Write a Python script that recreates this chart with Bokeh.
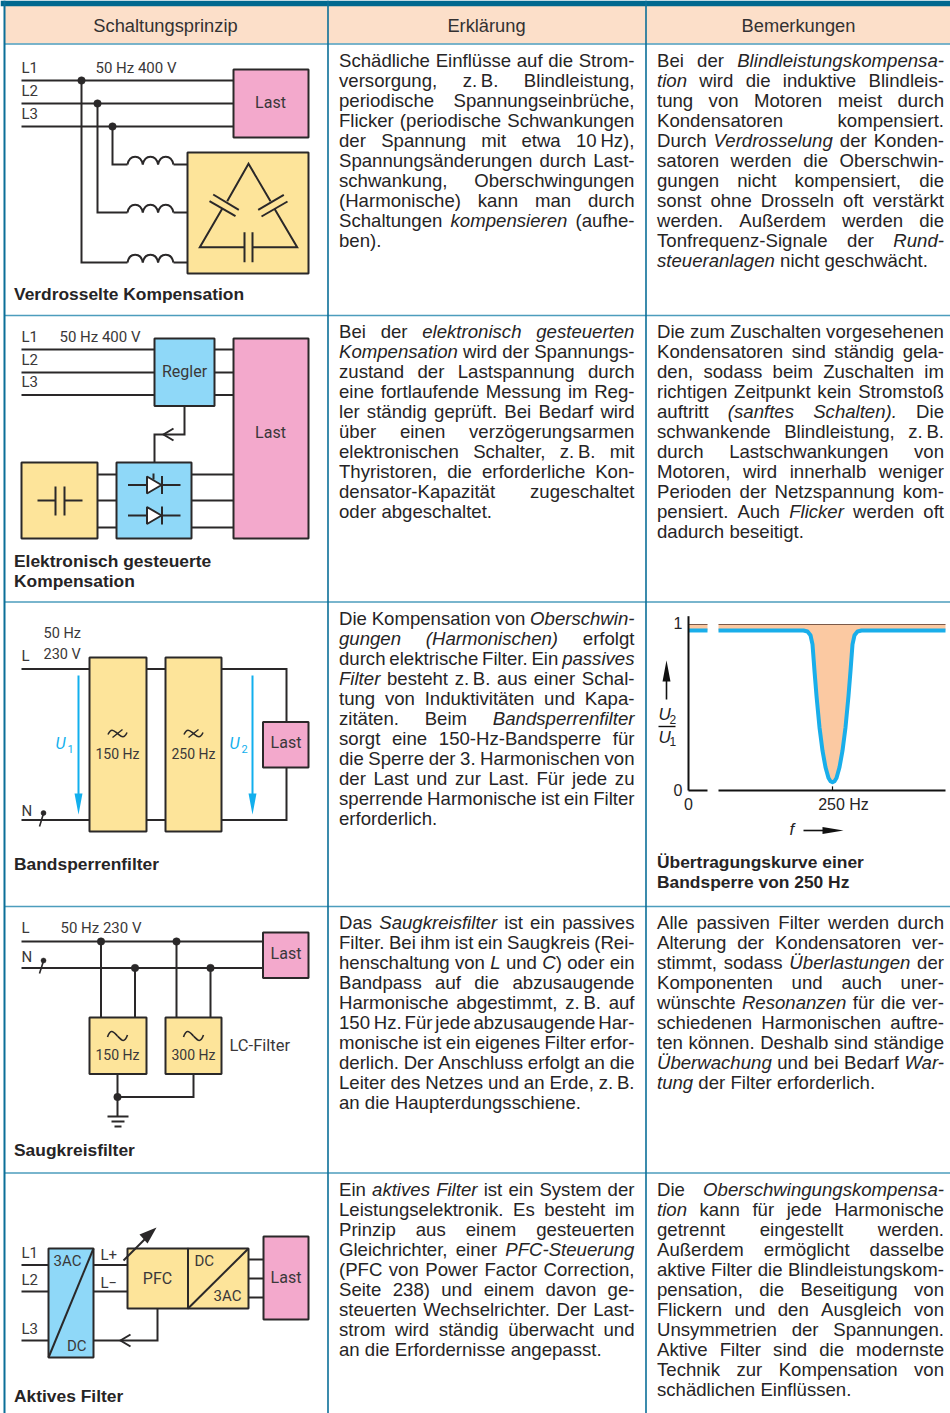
import glob
from bokeh.plotting import figure
from bokeh.models import Range1d
from bokeh.core.properties import value
from bokeh.embed import file_html
from bokeh.resources import INLINE

# ---------- data ----------
headers = ["Schaltungsprinzip", "Erklärung", "Bemerkungen"]
row_titles = [["Verdrosselte Kompensation"],
              ["Elektronisch gesteuerte", "Kompensation"],
              ["Bandsperrenfilter"],
              ["Saugkreisfilter"],
              ["Aktives Filter"]]
curve_title = ["Übertragungskurve einer", "Bandsperre von 250 Hz"]

# Body copy: "*" toggles italic, trailing "|" marks a line set without justification
col2_r1 = ["Schädliche Einflüsse auf die Strom-", "versorgung, z.\u2009B. Blindleistung,",
           "periodische Spannungseinbrüche,", "Flicker (periodische Schwankungen",
           "der Spannung mit etwa 10\u2009Hz),", "Spannungsänderungen durch Last-",
           "schwankung, Oberschwingungen", "(Harmonische) kann man durch",
           "Schaltungen *kompensieren* (aufhe-", "ben).|"]
col3_r1 = ["Bei der *Blindleistungskompensa-*", "*tion* wird die induktive Blindleis-",
           "tung von Motoren meist durch", "Kondensatoren kompensiert.",
           "Durch *Verdrosselung* der Konden-", "satoren werden die Oberschwin-",
           "gungen nicht kompensiert, die", "sonst ohne Drosseln oft verstärkt",
           "werden. Außerdem werden die", "Tonfrequenz-Signale der *Rund-*",
           "*steueranlagen* nicht geschwächt.|"]
col2_r2 = ["Bei der *elektronisch gesteuerten*", "*Kompensation* wird der Spannungs-",
           "zustand der Lastspannung durch", "eine fortlaufende Messung im Reg-",
           "ler ständig geprüft. Bei Bedarf wird", "über einen verzögerungsarmen",
           "elektronischen Schalter, z.\u2009B. mit", "Thyristoren, die erforderliche Kon-",
           "densator-Kapazität zugeschaltet", "oder abgeschaltet.|"]
col3_r2 = ["Die zum Zuschalten vorgesehenen", "Kondensatoren sind ständig gela-",
           "den, sodass beim Zuschalten im", "richtigen Zeitpunkt kein Stromstoß",
           "auftritt *(sanftes Schalten).* Die", "schwankende Blindleistung, z.\u2009B.",
           "durch Lastschwankungen von", "Motoren, wird innerhalb weniger",
           "Perioden der Netzspannung kom-", "pensiert. Auch *Flicker* werden oft",
           "dadurch beseitigt.|"]
col2_r3 = ["Die Kompensation von *Oberschwin-*", "*gungen (Harmonischen)* erfolgt",
           "durch elektrische Filter. Ein *passives*", "*Filter* besteht z.\u2009B. aus einer Schal-",
           "tung von Induktivitäten und Kapa-", "zitäten. Beim *Bandsperrenfilter*",
           "sorgt eine 150-Hz-Bandsperre für", "die Sperre der 3. Harmonischen von",
           "der Last und zur Last. Für jede zu", "sperrende Harmonische ist ein Filter",
           "erforderlich.|"]
col2_r4 = ["Das *Saugkreisfilter* ist ein passives", "Filter. Bei ihm ist ein Saugkreis (Rei-",
           "henschaltung von *L* und *C*) oder ein", "Bandpass auf die abzusaugende",
           "Harmonische abgestimmt, z.\u2009B. auf", "150\u2009Hz. Für jede abzusaugende Har-",
           "monische ist ein eigenes Filter erfor-", "derlich. Der Anschluss erfolgt an die",
           "Leiter des Netzes und an Erde, z.\u2009B.", "an die Haupterdungsschiene.|"]
col3_r4 = ["Alle passiven Filter werden durch", "Alterung der Kondensatoren ver-",
           "stimmt, sodass *Überlastungen* der", "Komponenten und auch uner-",
           "wünschte *Resonanzen* für die ver-", "schiedenen Harmonischen auftre-",
           "ten können. Deshalb sind ständige", "*Überwachung* und bei Bedarf *War-*",
           "*tung* der Filter erforderlich.|"]
col2_r5 = ["Ein *aktives Filter* ist ein System der", "Leistungselektronik. Es besteht im",
           "Prinzip aus einem gesteuerten", "Gleichrichter, einer *PFC-Steuerung*",
           "(PFC von Power Factor Correction,", "Seite 238) und einem davon ge-",
           "steuerten Wechselrichter. Der Last-", "strom wird ständig überwacht und",
           "an die Erfordernisse angepasst.|"]
col3_r5 = ["Die *Oberschwingungskompensa-*", "*tion* kann für jede Harmonische",
           "getrennt eingestellt werden.", "Außerdem ermöglicht dasselbe",
           "aktive Filter die Blindleistungskom-", "pensation, die Beseitigung von",
           "Flickern und den Ausgleich von", "Unsymmetrien der Spannungen.",
           "Aktive Filter sind die modernste", "Technik zur Kompensation von",
           "schädlichen Einflüssen.|"]

# Transfer curve of the 250 Hz band stop (frequency in Hz around the notch, U2/U1)
curve_f = [136, 221, 225, 228, 230, 231, 232, 234, 237, 240, 243, 246, 248, 250,
           252, 254, 257, 260, 263, 266, 268, 269, 270, 272, 275, 279, 363]
curve_u = [0.964, 0.964, 0.958, 0.935, 0.88, 0.80, 0.72, 0.57, 0.38, 0.24, 0.14, 0.075, 0.056, 0.05,
           0.056, 0.075, 0.14, 0.24, 0.38, 0.57, 0.72, 0.80, 0.88, 0.935, 0.958, 0.964, 0.964]
stub_f = [0, 19]
stub_u = [0.964, 0.964]
ratio_limit = 1.0
y_ticks = ["1", "0"]
x_ticks = ["0", "250 Hz"]

# ---------- styles ----------
INK = "#2a2829"
BODY = "#262425"
LABEL = "#3a3839"
RULE = "#0b6f98"
THIN = "#4d9dbd"
PINK = "#f3a9cc"
YEL = "#fde49a"
BLU = "#8fd8f8"
CYAN = "#12afed"
PEACH = "#fbc9a2"
HEAD = "#fcdfc9"
BODY_FONT = "Liberation Sans"
DIA_FONT = "Roboto"
BODY_SIZE = 18.6

p = figure(width=950, height=1413, x_range=Range1d(0, 950), y_range=Range1d(1413, 0),
           output_backend="svg", toolbar_location=None, x_axis_location=None,
           y_axis_location=None, min_border=0, outline_line_color=None, margin=0)
p.grid.visible = False
p.extra_x_ranges = {"hz": Range1d(250 - 832, 250 - 832 + 950), "hz0": Range1d(-688, 262)}
p.extra_y_ranges = {"u": Range1d((790 - 1413) / 166, 790 / 166)}


# ---------- text measuring ----------
def font_file(name):
    hits = glob.glob(f"/usr/share/fonts/**/{name}", recursive=True)
    return hits[0] if hits else None


try:
    from PIL import ImageFont
    _reg = ImageFont.truetype(font_file("LiberationSans-Regular.ttf"), 200)
    _ita = ImageFont.truetype(font_file("LiberationSans-Italic.ttf"), 200)

    def tw(s, italic, size):
        return (_ita if italic else _reg).getlength(s) * size / 200
except Exception:
    def tw(s, italic, size):
        return sum(0.28 if c in "il.,-:;'()tfjr\u2009 " else 0.72 if c.isupper() else 0.54 for c in s) * size


def layout_lines(lines, x0, x1, y0, step=20.0, size=BODY_SIZE):
    out = {False: ([], [], []), True: ([], [], [])}
    italic = False
    for i, raw in enumerate(lines):
        just = not raw.endswith("|")
        raw = raw.rstrip("|")
        words = []
        for w in raw.split(" "):
            runs, cur = [], ""
            for c in w:
                if c == "*":
                    if cur:
                        runs.append((cur, italic))
                    cur = ""
                    italic = not italic
                else:
                    cur += c
            if cur:
                runs.append((cur, italic))
            words.append(runs)
        widths = [sum(tw(t, it, size) for t, it in r) for r in words]
        gap = tw(" ", False, size)
        if just and len(words) > 1:
            gap = (x1 - x0 - sum(widths)) / (len(words) - 1)
        x = x0
        y = y0 + i * step
        for r, wd in zip(words, widths):
            xx = x
            for t, it in r:
                out[it][0].append(xx)
                out[it][1].append(y)
                out[it][2].append(t)
                xx += tw(t, it, size)
            x += wd + gap
    for it, (xs, ys, ts) in out.items():
        if xs:
            p.text(xs, ys, text=ts, text_font=value(BODY_FONT), text_font_size=f"{size}px",
                   text_font_style="italic" if it else "normal", text_color=BODY,
                   text_baseline="alphabetic", text_align="left")


# ---------- helpers ----------
def box(x0, y0, x1, y1, fill, lw=2):
    p.quad(left=x0, right=x1, top=y0, bottom=y1, fill_color=fill, line_color=INK, line_width=lw)


def wire(*pts, lw=2, col=INK):
    p.line([a for a, _ in pts], [b for _, b in pts], line_color=col, line_width=lw, line_join="miter")


def dots(pts, r=7.5):
    p.scatter([a for a, _ in pts], [b for _, b in pts], size=r, marker="circle",
              fill_color=INK, line_color=INK, line_width=0.5)


def lab(x, y, s, size=15, align="left", col=LABEL, style="normal", font=DIA_FONT):
    p.text([x], [y - 0.7], text=[s], text_font=value(font), text_font_size=f"{size}px", text_color=col,
           text_align=align, text_baseline="middle", text_font_style=style)


def coil(x0, y, n=3, d=15.3):
    for k in range(n):
        a = x0 + k * d
        b = a + d
        p.bezier(x0=[a], y0=[y], x1=[b], y1=[y], cx0=[a + 2], cy0=[y - 10.5], cx1=[b - 2], cy1=[y - 10.5],
                 line_color=INK, line_width=2)


def tilde(cx, cy, w=20, h=7):
    p.bezier(x0=[cx - w / 2], y0=[cy + 1], x1=[cx], y1=[cy], cx0=[cx - w / 3], cy0=[cy - h], cx1=[cx - w / 5], cy1=[cy - h / 2],
             line_color=INK, line_width=1.6)
    p.bezier(x0=[cx], y0=[cy], x1=[cx + w / 2], y1=[cy - 1], cx0=[cx + w / 5], cy0=[cy + h / 2], cx1=[cx + w / 3], cy1=[cy + h],
             line_color=INK, line_width=1.6)


def arrow_open(x, y):
    wire((x + 10, y - 6), (x, y), (x + 10, y + 6), lw=2)


def title(lines, x, y):
    for i, s in enumerate(lines):
        p.text([x], [y + 20 * i], text=[s], text_font=value(BODY_FONT), text_font_size="17.4px",
               text_font_style="bold", text_color=BODY, text_baseline="alphabetic")


# ---------- table frame ----------
p.quad(left=4, right=950, top=5, bottom=43, fill_color=HEAD, line_color=None)
p.quad(left=0, right=950, top=0, bottom=5.7, fill_color="#00688f", line_color=None)
for yy in (43.5, 315, 601.5, 906, 1172.5):
    p.line([4, 950], [yy, yy], line_color=THIN, line_width=1.6)
p.line([4, 4], [0, 1413], line_color=RULE, line_width=2)
for xx in (327.5, 645.5):
    p.line([xx, xx], [0, 1413], line_color=RULE, line_width=1.6)
for s, cx in zip(headers, (165, 486, 798)):
    lab(cx, 26, s, size=18.3, align="center", col="#333132", font=BODY_FONT)

# ---------- body text ----------
C2 = (338.5, 634)
C3 = (656.5, 943.5)
B = [60.4, 331.4, 618.4, 922.4, 1189.4]
for lines, c, b in [(col2_r1, C2, B[0]), (col3_r1, C3, B[0]), (col2_r2, C2, B[1]), (col3_r2, C3, B[1]),
                    (col2_r3, C2, B[2]), (col2_r4, C2, B[3]), (col3_r4, C3, B[3]),
                    (col2_r5, C2, B[4]), (col3_r5, C3, B[4])]:
    layout_lines(lines, c[0], c[1], b)
for t, y in zip(row_titles, (293.5, 560.5, 863.5, 1149.5, 1395.5)):
    title(t, 13.5, y)
title(curve_title, 656.5, 861.5)

# ---------- row 1 ----------
for y, s in zip((80, 103, 126), ("L1", "L2", "L3")):
    wire((21, y), (233, y))
    lab(21, y - 12, s)
lab(95, 68.5, "50 Hz  400 V")
box(233, 69, 308, 137, PINK)
lab(270, 103, "Last", align="center", size=16)
box(187, 152, 308, 273, YEL)
wire((81, 80), (81, 262), (127, 262))
wire((97, 103), (97, 212), (127, 212))
wire((112, 126), (112, 164), (127, 164))
for y in (164, 212, 262):
    coil(127, y)
    wire((173, y), (187, y))
dots([(81, 80), (97, 103), (112, 126)])
wire((221.7, 208.3), (199.3, 246.7), (244, 246.7))
wire((226.7, 200.7), (248, 163.3), (270, 200.7))
wire((274, 208.3), (296.7, 246.7), (252, 246.7))
wire((212.7, 194), (238.3, 209.3))
wire((209, 200.7), (235, 215.7))
wire((283.3, 194.3), (257.7, 209.3))
wire((287, 201), (261, 216))
wire((244, 231.7), (244, 261.7))
wire((252, 231.7), (252, 261.7))

# ---------- row 2 ----------
for y, s in zip((349, 372, 394.5), ("L1", "L2", "L3")):
    wire((21, y), (233, y))
    lab(21, y - 12, s)
lab(59, 337.5, "50 Hz  400 V")
box(154, 338, 214, 405.5, BLU)
lab(184, 372, "Regler", align="center", size=16)
box(233, 338, 308, 538, PINK)
lab(270, 433, "Last", align="center", size=16)
wire((184, 405.5), (184, 434), (154, 434), (154, 462))
arrow_open(163, 434)
for y in (474, 500, 527):
    wire((97, y), (116, y))
    wire((191, y), (233, y))
box(21, 462, 97, 538, YEL)
box(116, 462, 191, 538, BLU)
wire((37, 500), (55, 500))
wire((64, 500), (82, 500))
wire((55, 486), (55, 515))
wire((64, 486), (64, 515))
for y in (484.5, 515):
    wire((127.5, y), (180, y))
    p.patch([146.5, 146.5, 161], [y - 8.5, y + 8.5, y], fill_color="white", line_color=INK, line_width=2)
    wire((161.5, y - 9), (161.5, y + 9))
wire((153, 473), (153, 479))

# ---------- row 3 ----------
wire((21, 668.5), (89, 668.5))
wire((21, 819.5), (89, 819.5))
wire((146, 668.5), (165, 668.5))
wire((146, 819.5), (165, 819.5))
wire((221, 668.5), (286, 668.5), (286, 721))
wire((221, 819.5), (286, 819.5), (286, 767))
box(89, 657, 146, 831, YEL)
box(165, 657, 221, 831, YEL)
box(262.5, 721.5, 308, 767, PINK)
lab(285.5, 743, "Last", align="center", size=16)
lab(21, 656, "L")
lab(21, 811, "N")
lab(43, 634, "50 Hz", size=14.5)
lab(43, 655, "230 V", size=14.5)
wire((39, 826), (43, 813), lw=1.6)
dots([(43, 812.5)], r=5)
for cx, s in ((117, "150 Hz"), (193, "250 Hz")):
    lab(cx, 754, s, align="center", size=14)
    tilde(cx, 733, w=19, h=6)
    wire((cx - 5, 737), (cx + 5, 729), lw=1.4)
for xa, xl, sub in ((78, 55, "1"), (252, 229, "2")):
    wire((xa, 675), (xa, 800), lw=2, col=CYAN)
    p.patch([xa - 4, xa + 4, xa], [793, 793, 814], fill_color=CYAN, line_color=None)
    lab(xl, 744, "U", size=16, col=CYAN, style="italic")
    lab(xl + 12, 749, sub, size=11, col=CYAN)

# ---------- row 4 ----------
wire((21, 941), (262, 941))
wire((21, 967.5), (262, 967.5))
box(262.5, 932, 308, 977.5, PINK)
lab(285.5, 953.5, "Last", align="center", size=16)
lab(21, 928, "L")
lab(21, 957, "N")
lab(60, 928, "50 Hz  230 V")
wire((39, 973), (43, 960.5), lw=1.6)
dots([(43, 960)], r=5)
for x, y in ((100.5, 941), (134.5, 967.5), (176, 941), (210, 967.5)):
    wire((x, y), (x, 1017))
box(89, 1017, 146, 1073.5, YEL)
box(165, 1017, 221, 1073.5, YEL)
for cx, s in ((117, "150 Hz"), (193, "300 Hz")):
    lab(cx, 1055, s, align="center", size=14)
    tilde(cx, 1035.5, w=20, h=8)
lab(229, 1045.5, "LC-Filter", size=16.5)
wire((117, 1073.5), (117, 1116))
wire((193, 1073.5), (193, 1096.5), (117, 1096.5))
dots([(100.5, 941), (134.5, 967.5), (176, 941), (210, 967.5), (117, 1096.5)])
wire((107, 1116), (128, 1116))
wire((111, 1121), (124, 1121))
wire((114, 1126), (121, 1126))

# ---------- row 5 ----------
for y, s in zip((1264.5, 1291, 1340), ("L1", "L2", "L3")):
    wire((21, y), (48, y))
    lab(21, y - 11, s)
box(48, 1248, 93, 1357, BLU)
wire((48, 1357), (93, 1248))
lab(53, 1261, "3AC")
lab(86, 1346, "DC", align="right")
wire((93, 1264.5), (127, 1264.5))
wire((93, 1291), (127, 1291))
lab(100, 1255, "L+")
lab(100, 1283, "L\u2212")
box(127, 1248, 187.5, 1308, YEL)
box(187.5, 1248, 248, 1308, YEL)
wire((187.5, 1308), (248, 1248))
lab(157, 1279, "PFC", align="center", size=16)
lab(194, 1261.5, "DC")
lab(241, 1296, "3AC", align="right")
for y in (1259, 1278, 1297):
    wire((248, y), (263, y))
box(263, 1236, 308, 1319, PINK)
lab(285.5, 1278, "Last", align="center", size=16)
wire((157, 1308), (157, 1340), (93, 1340))
arrow_open(120, 1340)
wire((123, 1260), (146, 1237), lw=2)
p.patch([156, 139, 147], [1227, 1234, 1243], fill_color=INK, line_color=None)

# ---------- transfer curve ----------
top = [ratio_limit] * len(curve_f)
p.varea(curve_f, curve_u, top, fill_color=PEACH, x_range_name="hz", y_range_name="u")
p.varea(stub_f, stub_u, [ratio_limit] * 2, fill_color=PEACH, x_range_name="hz0", y_range_name="u")
p.line([stub_f[0], stub_f[1]], [ratio_limit] * 2, line_color="#7b5a49", line_width=1, x_range_name="hz0", y_range_name="u")
p.line([curve_f[0], curve_f[-1]], [ratio_limit] * 2, line_color="#7b5a49", line_width=1, x_range_name="hz", y_range_name="u")
p.line(curve_f, curve_u, line_color="#19aeea", line_width=4, line_join="round", x_range_name="hz", y_range_name="u")
p.line(stub_f, stub_u, line_color="#19aeea", line_width=4, x_range_name="hz0", y_range_name="u")
p.line([curve_f[0], curve_f[-1]], [0, 0], line_color="#111111", line_width=2, x_range_name="hz", y_range_name="u")
p.line(stub_f, [0, 0], line_color="#111111", line_width=2, x_range_name="hz0", y_range_name="u")
p.line([0, 0], [0, 1.05], line_color="#111111", line_width=2, x_range_name="hz0", y_range_name="u")
p.line([250, 250], [0, 0.025], line_color="#111111", line_width=1.2, x_range_name="hz", y_range_name="u")
for s, v, dy in zip(y_ticks, (1, 0), (0.012, 0.006)):
    p.text([-6], [v + dy], text=[s], text_font=value(BODY_FONT), text_font_size="16px", text_color=BODY,
           text_align="right", text_baseline="middle", x_range_name="hz0", y_range_name="u")
p.text([0], [-0.084], text=[x_ticks[0]], text_font=value(BODY_FONT), text_font_size="16px", text_color=BODY,
       text_align="center", text_baseline="middle", x_range_name="hz0", y_range_name="u")
p.text([261], [-0.084], text=[x_ticks[1]], text_font=value(BODY_FONT), text_font_size="16px", text_color=BODY,
       text_align="center", text_baseline="middle", x_range_name="hz", y_range_name="u")
# axis arrows and labels
wire((666, 699), (666, 675), lw=1.6, col="#111111")
p.patch([662, 670, 666], [681, 681, 660], fill_color="#111111", line_color=None)
lab(658, 715, "U", size=17, col=BODY, style="italic", font=BODY_FONT)
lab(669, 720, "2", size=12, col=BODY, font=BODY_FONT)
wire((658, 726), (675, 726), lw=1.4, col="#111111")
lab(658, 738, "U", size=17, col=BODY, style="italic", font=BODY_FONT)
lab(669, 742, "1", size=12, col=BODY, font=BODY_FONT)
lab(789, 830, "f", size=17, col=BODY, style="italic", font=BODY_FONT)
wire((803, 830), (825, 830), lw=1.6, col="#111111")
p.patch([822, 822, 843], [826.5, 833.5, 830], fill_color="#111111", line_color=None)

open("out.html", "w").write(file_html(p, INLINE))
